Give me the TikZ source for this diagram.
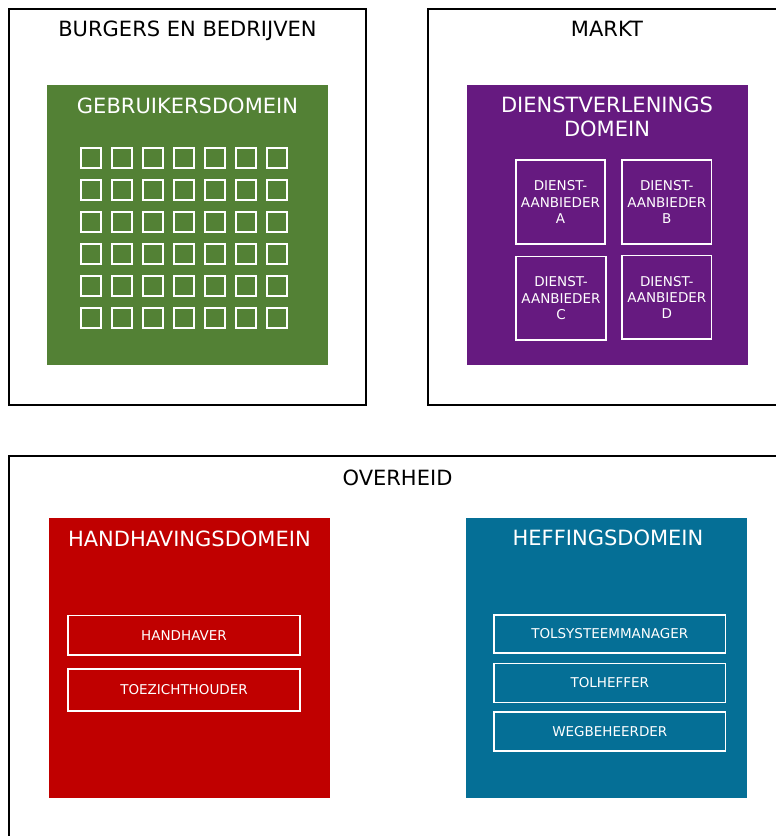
\documentclass[tikz,border=0pt]{standalone}
\usepackage{fontspec}
\setmainfont{DejaVu Sans}
\definecolor{gebr}{HTML}{538135}
\definecolor{dienst}{HTML}{661A80}
\definecolor{handh}{HTML}{C00000}
\definecolor{heff}{HTML}{056F96}
\tikzset{
  outerbox/.style={draw=black, line width=2pt, fill=white, inner sep=0pt},
  dombox/.style={inner sep=0pt, minimum width=281pt, minimum height=280pt},
  bigtitle/.style={anchor=base, inner sep=0pt, font=\fontsize{21}{24}\selectfont},
  roletxt/.style={draw=white, line width=1.6pt, inner sep=0pt, text=white, font=\fontsize{13.5}{16.3}\selectfont, align=center},
  cell/.style={draw=white, line width=1.8pt, inner sep=0pt, minimum width=20.5pt, minimum height=20pt}
}
\begin{document}
\begin{tikzpicture}[x=1pt,y=-1pt]
\useasboundingbox (0,0) rectangle (776,836);
\fill[white] (0,0) rectangle (776,836);
% outer boxes
\node[outerbox, minimum width=357pt, minimum height=396pt] (burg) at (187.5,207) {};
\node[outerbox, minimum width=360pt, minimum height=396pt] (markt) at (607.5,207) {};
\node[outerbox, minimum width=780pt, minimum height=400pt] (overh) at (398.5,656) {};
\node[bigtitle] (tburg) at (187.5,36.7) {BURGERS EN BEDRIJVEN};
\node[bigtitle] (tmarkt) at (607,36.7) {MARKT};
\node[bigtitle] (tover) at (397.5,485) {OVERHEID};
% green domain
\node[dombox, fill=gebr] (gd) at (187.8,224.5) {};
\node[bigtitle, text=white] (tgd) at (187.5,113) {GEBRUIKERSDOMEIN};
\foreach \c in {0,...,6}{
  \foreach \r in {0,...,5}{
    \node[cell] (g-\c-\r) at ({91+31*\c},{157.8+32*\r}) {};
  }
}
% purple domain
\node[dombox, fill=dienst] (dd) at (607,224.5) {};
\node[bigtitle, text=white, align=center, font=\fontsize{21}{23.3}\selectfont] (tdd) at (607,136) {DIENSTVERLENINGS\\DOMEIN};
\node[roletxt, minimum width=89.5pt, minimum height=84pt] (da) at (560.5,202) {DIENST-\\AANBIEDER\\A};
\node[roletxt, minimum width=89.5pt, minimum height=84pt] (db) at (666.8,202) {DIENST-\\AANBIEDER\\B};
\node[roletxt, minimum width=90.5pt, minimum height=83.5pt] (dc) at (561,298.3) {DIENST-\\AANBIEDER\\C};
\node[roletxt, minimum width=89.5pt, minimum height=83.5pt] (ddd) at (666.8,297.3) {DIENST-\\AANBIEDER\\D};
% red domain
\node[dombox, fill=handh] (hd) at (189.9,657.8) {};
\node[bigtitle, text=white] (thd) at (189.4,546) {HANDHAVINGSDOMEIN};
\node[roletxt, minimum width=232pt, minimum height=39.5pt] (hh) at (184,635.4) {HANDHAVER};
\node[roletxt, minimum width=232pt, minimum height=42pt] (tz) at (184,690) {TOEZICHTHOUDER};
% blue domain
\node[dombox, fill=heff] (fd) at (606.8,657.8) {};
\node[bigtitle, text=white] (tfd) at (608,545.7) {HEFFINGSDOMEIN};
\node[roletxt, minimum width=231.7pt, minimum height=37.7pt] (tsm) at (609.8,633.9) {TOLSYSTEEMMANAGER};
\node[roletxt, minimum width=231.7pt, minimum height=39pt] (th) at (609.8,682.8) {TOLHEFFER};
\node[roletxt, minimum width=231.7pt, minimum height=39pt] (wb) at (609.8,731.5) {WEGBEHEERDER};
\end{tikzpicture}
\end{document}
